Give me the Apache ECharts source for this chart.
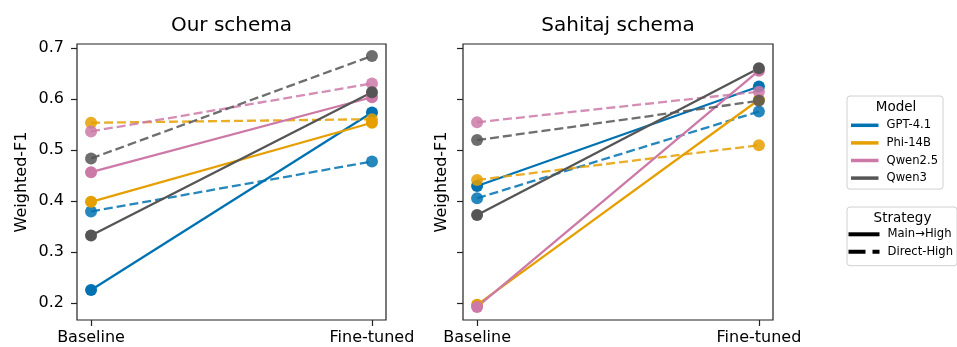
<!DOCTYPE html>
<html>
<head>
<meta charset="utf-8">
<script src="https://cdn.jsdelivr.net/npm/echarts@6/dist/echarts.min.js"></script>
<style>
  html, body { margin: 0; padding: 0; background: #fff; }
  #chart { width: 957px; height: 347px; }
</style>
</head>
<body>
<div id="chart"></div>
<script>
//--------------------- Data ---------------------------//
const stages = ['Baseline', 'Fine-tuned'];
const models = ['GPT-4.1', 'Phi-14B', 'Qwen2.5', 'Qwen3'];
const strategies = ['Main→High', 'Direct-High'];
const panelTitles = ['Our schema', 'Sahitaj schema'];
const yTicks = [0.2, 0.3, 0.4, 0.5, 0.6, 0.7];

// [baseline, fine-tuned] per model, Main→High (solid) and Direct-High (dashed)
const ourMain = [[0.226, 0.574], [0.399, 0.554], [0.457, 0.604], [0.333, 0.614]];
const ourDirect = [[0.380, 0.478], [0.554, 0.561], [0.537, 0.631], [0.484, 0.685]];
const sahMain = [[0.430, 0.625], [0.197, 0.599], [0.193, 0.656], [0.373, 0.661]];
const sahDirect = [[0.406, 0.576], [0.442, 0.510], [0.555, 0.615], [0.520, 0.597]];

const colors = ['#0072b2', '#e69f00', '#cc79a7', '#555555'];

//--------------------- Layout ---------------------------//
const grids = [
  { left: 77, top: 44, width: 309, height: 276 },
  { left: 463, top: 44, width: 310, height: 276 }
];
const yMin = 0.1673;
const yMax = 0.7084;
const font = 'DejaVu Sans';

function buildSeries(panel, mainVals, directVals) {
  const out = [];
  models.forEach((m, i) => {
    [mainVals, directVals].forEach((vals, k) => {
      const dashed = k === 1;
      out.push({
        name: m,
        type: 'line',
        xAxisIndex: panel,
        yAxisIndex: panel,
        data: vals[i].map((v, j) => [j, v]),
        symbol: 'circle',
        symbolSize: 12,
        color: colors[i],
        itemStyle: { color: colors[i], opacity: dashed ? 0.85 : 1 },
        lineStyle: { color: colors[i], width: 2.3, type: dashed ? [9, 4] : 'solid', opacity: dashed ? 0.85 : 1 },
        emphasis: { disabled: true }
      });
    });
  });
  return out;
}

const series = [
  ...buildSeries(0, ourMain, ourDirect),
  ...buildSeries(1, sahMain, sahDirect),
  // empty series so the strategy legend has entries
  { name: strategies[0], type: 'line', data: [], color: '#000', xAxisIndex: 0, yAxisIndex: 0 },
  { name: strategies[1], type: 'line', data: [], color: '#000', xAxisIndex: 0, yAxisIndex: 0 }
];

const xAxis = grids.map((g, i) => ({
  type: 'value', gridIndex: i, min: -0.05, max: 1.05,
  splitLine: { show: false },
  axisLine: { show: false, onZero: false },
  axisTick: { show: true, length: 6, customValues: [0, 1], lineStyle: { color: '#222', width: 1.2 } },
  axisLabel: {
    customValues: [0, 1], margin: 10, color: '#000', fontFamily: font, fontSize: 16,
    formatter: v => stages[Math.round(v)]
  }
}));

const yAxis = grids.map((g, i) => ({
  type: 'value', gridIndex: i, min: yMin, max: yMax,
  name: 'Weighted-F1', nameLocation: 'middle', nameGap: i === 0 ? 47 : 13,
  nameTextStyle: { color: '#000', fontFamily: font, fontSize: 16 },
  splitLine: { show: false },
  axisLine: { show: false, onZero: false },
  axisTick: { show: true, length: 6, customValues: yTicks, lineStyle: { color: '#222', width: 1.2 } },
  axisLabel: {
    show: i === 0, customValues: yTicks, margin: 13, color: '#000', fontFamily: font, fontSize: 16,
    padding: [4, 0, 0, 0],
    formatter: v => v.toFixed(1)
  }
}));

const legendText = { color: '#000', fontFamily: font, fontSize: 11.6, lineHeight: 12, padding: [0, 0, 0, 3] };

const option = {
  animation: false,
  backgroundColor: '#fff',
  title: [
    { text: panelTitles[0], left: 231.5, top: 16, textAlign: 'center', padding: 0,
      textStyle: { fontFamily: font, fontSize: 20, fontWeight: 'normal', color: '#000' } },
    { text: panelTitles[1], left: 618, top: 16, textAlign: 'center', padding: 0,
      textStyle: { fontFamily: font, fontSize: 20, fontWeight: 'normal', color: '#000' } },
    { text: 'Model', left: 896, top: 100.5, textAlign: 'center', padding: 0,
      textStyle: { fontFamily: font, fontSize: 13.5, fontWeight: 'normal', color: '#000' } },
    { text: 'Strategy', left: 902.5, top: 211, textAlign: 'center', padding: 0,
      textStyle: { fontFamily: font, fontSize: 13.5, fontWeight: 'normal', color: '#000' } }
  ],
  grid: grids.map(g => Object.assign({ show: true, borderColor: '#222', borderWidth: 1.2 }, g)),
  xAxis: xAxis,
  yAxis: yAxis,
  legend: [
    {
      data: models.map(m => ({ name: m, icon: 'rect' })),
      orient: 'vertical', left: 847, top: 96,
      padding: [23.3, 5, 5, 4], itemGap: 5.6, itemWidth: 27.5, itemHeight: 3.5,
      borderColor: '#d0d0d0', borderWidth: 1, borderRadius: 3, backgroundColor: '#fff',
      selectedMode: false, textStyle: legendText
    },
    {
      data: [
        { name: strategies[0], icon: 'rect' },
        { name: strategies[1], icon: 'path://M0,0H17V4H0Z M24,0H31V4H24Z' }
      ],
      orient: 'vertical', left: 847, top: 207,
      padding: [21.3, 4, 8, 1.5], itemGap: 5.4, itemWidth: 31, itemHeight: 4,
      borderColor: '#d0d0d0', borderWidth: 1, borderRadius: 3, backgroundColor: '#fff',
      selectedMode: false, textStyle: legendText
    }
  ],
  series: series
};

//--------------------- Main ---------------------------//
const chart = echarts.init(document.getElementById('chart'), null, { renderer: 'canvas' });
chart.setOption(option);
</script>
</body>
</html>
